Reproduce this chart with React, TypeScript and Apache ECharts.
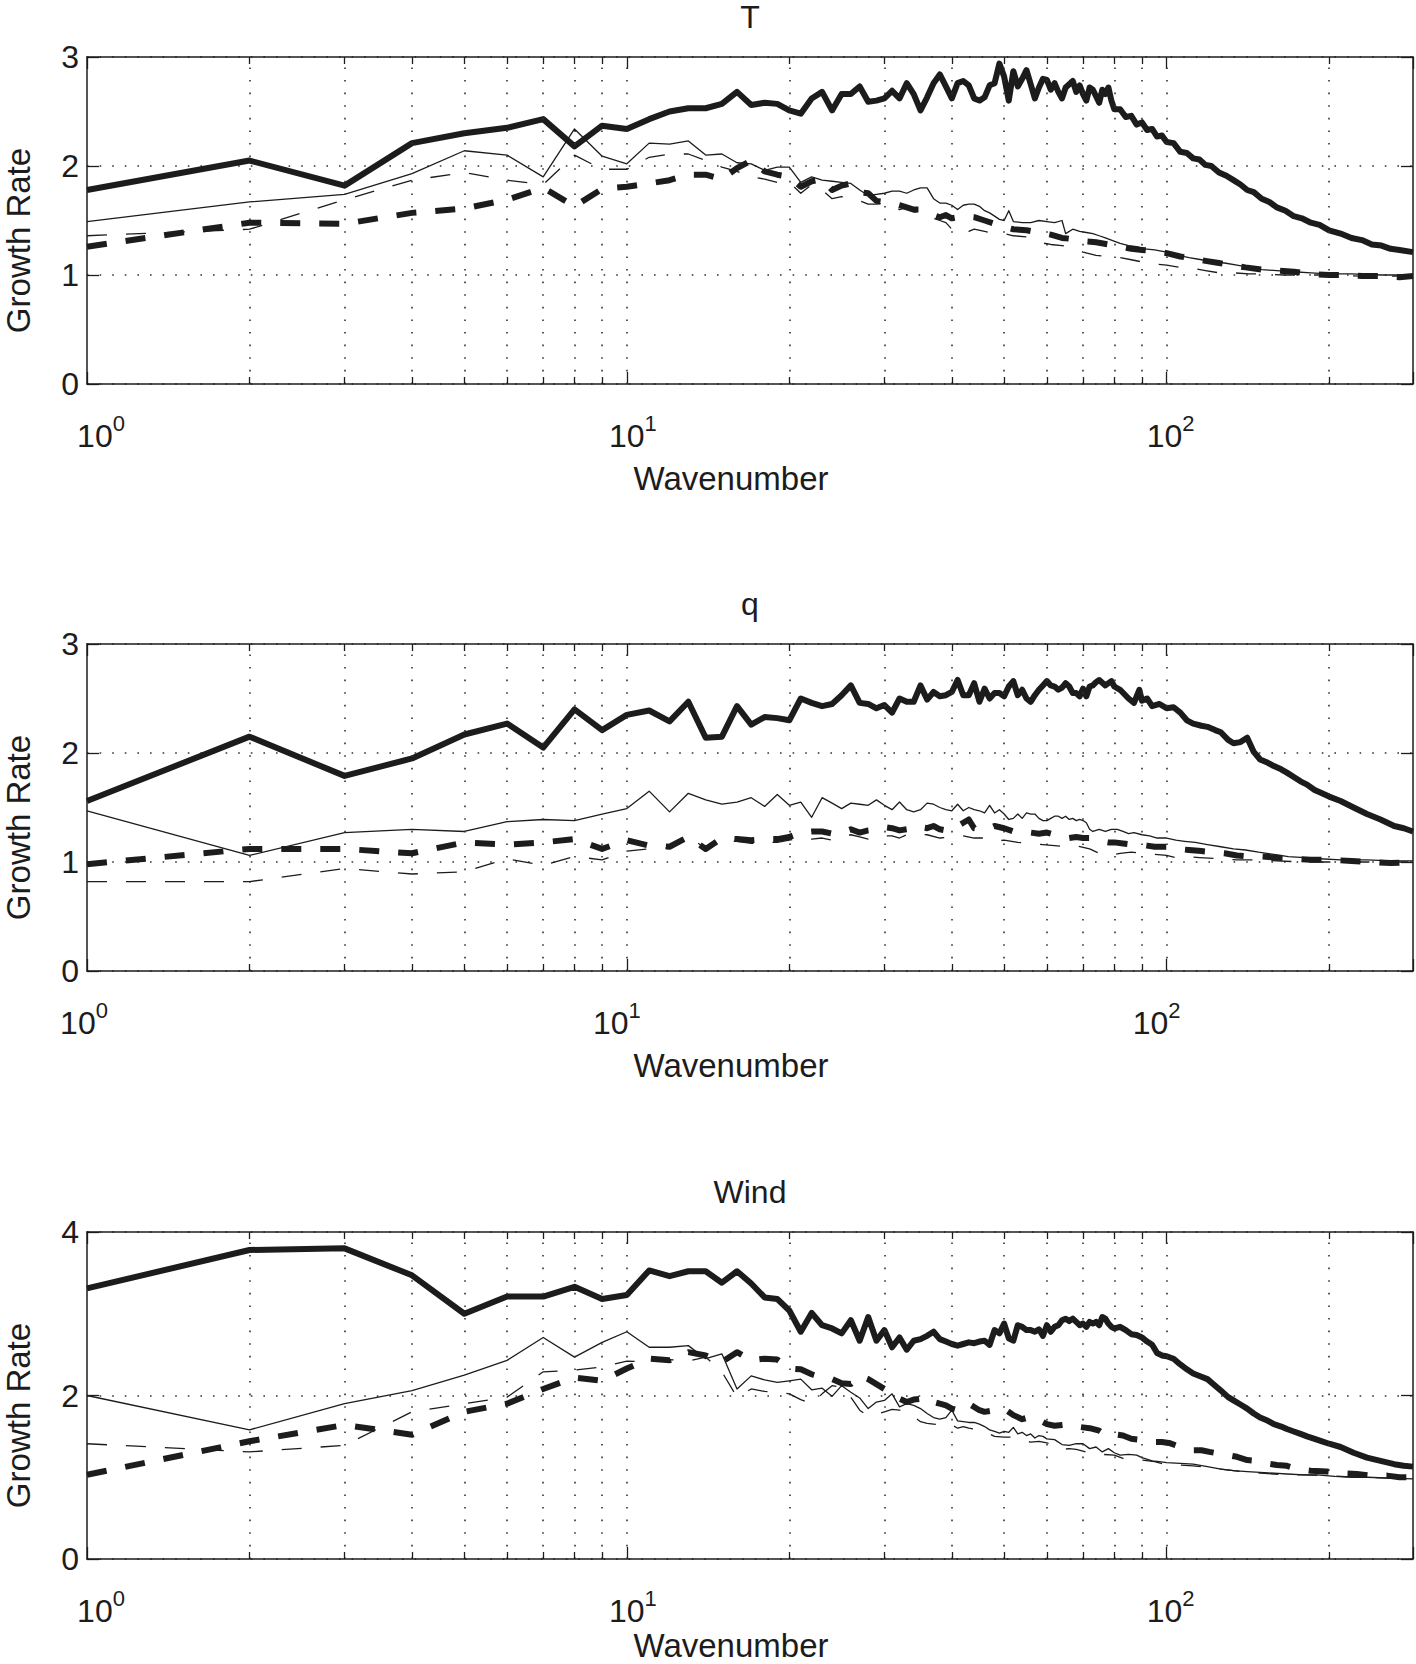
import React, { useEffect, useRef } from "react";
import * as echarts from "echarts";

type P = [number, number];

// ---------- axis / tick data ----------
const K_MIN = 1;
const K_MAX = 286;
const GRID_K = [2, 3, 4, 5, 6, 7, 8, 9, 10, 20, 30, 40, 50, 60, 70, 80, 90, 100, 200];
const MINOR_K = [2, 3, 4, 5, 6, 7, 8, 9, 20, 30, 40, 50, 60, 70, 80, 90, 200];
const PANEL_TITLES = ["T", "q", "Wind"];
const Y_MAX = [3, 3, 4];
const Y_INTERVAL = [1, 1, 2];
const X_NAME = "Wavenumber";
const Y_NAME = "Growth Rate";

// ---------- Panel 1 : T ----------
const T_thickSolid: P[] = [
  [1, 1.78], [2, 2.05], [3, 1.82], [4, 2.21], [5, 2.3], [6, 2.35], [7, 2.43], [8, 2.18], [9, 2.37], [10, 2.34],
  [11, 2.43], [12, 2.5], [13, 2.53], [14, 2.53], [15, 2.57], [16, 2.68], [17, 2.56], [18, 2.58], [19, 2.57], [20, 2.51],
  [21, 2.48], [22, 2.62], [23, 2.68], [24, 2.51], [25, 2.66], [26, 2.66], [27, 2.73], [28, 2.59], [29, 2.6], [30, 2.62],
  [31, 2.69], [32, 2.62], [33, 2.76], [34, 2.66], [35, 2.51], [36, 2.63], [37, 2.76], [38, 2.84], [39, 2.73], [40, 2.62],
  [41, 2.76], [42, 2.78], [43, 2.74], [44, 2.62], [45, 2.6], [46, 2.63], [47, 2.74], [48, 2.76], [49, 2.94], [50, 2.82],
  [51, 2.6], [52, 2.87], [53, 2.73], [54, 2.8], [55, 2.88], [56, 2.75], [57, 2.62], [58, 2.72], [59, 2.8], [60, 2.79],
  [61, 2.7], [62, 2.76], [63, 2.68], [64, 2.62], [65, 2.72], [66, 2.75], [67, 2.78], [68, 2.68], [69, 2.74], [70, 2.66],
  [71, 2.6], [72, 2.72], [73, 2.7], [74, 2.64], [75, 2.58], [76, 2.7], [77, 2.66], [78, 2.72], [79, 2.6], [80, 2.52],
  [82, 2.52], [84, 2.45], [86, 2.46], [88, 2.38], [90, 2.4], [92, 2.33], [94, 2.34], [96, 2.27], [98, 2.28], [100, 2.22],
  [103, 2.21], [106, 2.13], [109, 2.12], [112, 2.07], [115, 2.06], [118, 2.01], [121, 2.0], [125, 1.94], [129, 1.91],
  [133, 1.87], [137, 1.83], [141, 1.78], [145, 1.76], [150, 1.7], [155, 1.67], [160, 1.62], [166, 1.59], [172, 1.54],
  [178, 1.52], [185, 1.48], [192, 1.46], [200, 1.41], [210, 1.38], [220, 1.34], [230, 1.32], [240, 1.28], [250, 1.27],
  [260, 1.24], [270, 1.23], [286, 1.21],
];
const T_thinSolid: P[] = [
  [1, 1.49], [2, 1.67], [3, 1.74], [4, 1.93], [5, 2.14], [6, 2.1], [7, 1.9], [8, 2.34], [9, 2.09], [10, 2.02],
  [11, 2.21], [12, 2.2], [13, 2.23], [14, 2.1], [15, 2.11], [16, 2.03], [17, 2.02], [18, 1.96], [19, 1.99], [20, 1.99],
  [21, 1.85], [22, 1.9], [23, 1.87], [24, 1.86], [25, 1.85], [26, 1.84], [27, 1.78], [28, 1.73], [29, 1.74], [30, 1.75],
  [31, 1.77], [32, 1.77], [33, 1.75], [34, 1.78], [35, 1.8], [36, 1.8], [37, 1.7], [38, 1.66], [39, 1.66], [40, 1.64],
  [41, 1.6], [42, 1.64], [43, 1.65], [44, 1.65], [45, 1.63], [46, 1.59], [47, 1.57], [48, 1.54], [49, 1.51], [50, 1.5],
  [51, 1.59], [52, 1.49], [54, 1.48], [56, 1.48], [58, 1.5], [60, 1.49], [62, 1.48], [64, 1.5], [65, 1.38], [67, 1.42],
  [69, 1.4], [71, 1.39], [73, 1.38], [75, 1.36], [77, 1.34], [79, 1.32], [82, 1.29], [85, 1.27], [88, 1.26], [91, 1.24],
  [95, 1.23], [100, 1.21], [105, 1.18], [110, 1.16], [116, 1.14], [122, 1.12], [128, 1.11], [135, 1.09], [142, 1.07],
  [150, 1.05], [160, 1.04], [172, 1.03], [185, 1.02], [200, 1.01], [220, 1.01], [250, 1.0], [286, 1.0],
];
const T_thinDashed: P[] = [
  [1, 1.36], [2, 1.42], [3, 1.69], [4, 1.87], [5, 1.94], [6, 1.87], [7, 1.83], [8, 2.1], [9, 1.97], [10, 1.97],
  [11, 2.08], [12, 2.11], [13, 2.11], [14, 2.05], [15, 1.99], [16, 1.95], [17, 1.9], [18, 1.88], [19, 1.85], [20, 1.85],
  [21, 1.75], [22, 1.83], [23, 1.78], [24, 1.7], [25, 1.72], [26, 1.7], [27, 1.68], [28, 1.65], [29, 1.65], [30, 1.66],
  [31, 1.64], [32, 1.6], [33, 1.62], [34, 1.58], [35, 1.57], [36, 1.55], [37, 1.52], [38, 1.5], [39, 1.48], [40, 1.42],
  [41, 1.4], [42, 1.42], [43, 1.4], [44, 1.42], [46, 1.4], [48, 1.38], [50, 1.38], [52, 1.36], [55, 1.35], [58, 1.3],
  [61, 1.28], [64, 1.27], [67, 1.25], [70, 1.21], [74, 1.18], [78, 1.17], [82, 1.16], [86, 1.14], [90, 1.12], [95, 1.1],
  [100, 1.09], [106, 1.07], [112, 1.06], [118, 1.04], [125, 1.02], [133, 1.02], [142, 1.01], [150, 1.01], [165, 1.0],
  [180, 1.0], [200, 1.0], [230, 0.99], [260, 0.99], [286, 0.99],
];
const T_thickDashed: P[] = [
  [1, 1.26], [2, 1.48], [3, 1.47], [4, 1.57], [5, 1.61], [6, 1.69], [7, 1.8], [8, 1.63], [9, 1.79], [10, 1.81],
  [11, 1.84], [12, 1.87], [13, 1.92], [14, 1.92], [15, 1.88], [16, 1.98], [17, 2.05], [18, 1.95], [19, 1.92], [20, 1.9],
  [21, 1.81], [22, 1.86], [23, 1.88], [24, 1.78], [25, 1.82], [26, 1.84], [27, 1.76], [28, 1.75], [29, 1.68], [30, 1.67],
  [31, 1.66], [32, 1.64], [33, 1.62], [34, 1.6], [35, 1.6], [36, 1.58], [37, 1.55], [38, 1.53], [39, 1.55], [40, 1.52],
  [42, 1.54], [44, 1.53], [46, 1.5], [48, 1.47], [50, 1.44], [52, 1.42], [55, 1.41], [58, 1.39], [61, 1.37], [64, 1.34],
  [67, 1.33], [70, 1.31], [74, 1.3], [78, 1.28], [82, 1.26], [86, 1.24], [90, 1.23], [95, 1.22], [100, 1.2], [106, 1.17],
  [112, 1.15], [118, 1.13], [125, 1.11], [132, 1.09], [140, 1.07], [150, 1.05], [160, 1.04], [172, 1.03], [185, 1.01],
  [200, 1.0], [215, 1.0], [230, 0.99], [250, 0.99], [270, 0.98], [286, 0.99],
];

// ---------- Panel 2 : q ----------
const q_thickSolid: P[] = [
  [1, 1.56], [2, 2.15], [3, 1.79], [4, 1.95], [5, 2.17], [6, 2.27], [7, 2.05], [8, 2.4], [9, 2.21], [10, 2.35],
  [11, 2.39], [12, 2.29], [13, 2.47], [14, 2.14], [15, 2.15], [16, 2.43], [17, 2.26], [18, 2.33], [19, 2.32], [20, 2.3],
  [21, 2.5], [22, 2.46], [23, 2.43], [24, 2.45], [25, 2.53], [26, 2.62], [27, 2.46], [28, 2.45], [29, 2.41], [30, 2.44],
  [31, 2.37], [32, 2.5], [33, 2.47], [34, 2.47], [35, 2.62], [36, 2.49], [37, 2.56], [38, 2.52], [39, 2.53], [40, 2.56],
  [41, 2.67], [42, 2.53], [43, 2.53], [44, 2.64], [45, 2.47], [46, 2.59], [47, 2.5], [48, 2.55], [49, 2.55], [50, 2.52],
  [51, 2.61], [52, 2.66], [53, 2.53], [54, 2.58], [55, 2.5], [56, 2.47], [57, 2.53], [58, 2.58], [59, 2.62], [60, 2.66],
  [61, 2.62], [62, 2.61], [63, 2.58], [64, 2.6], [65, 2.64], [66, 2.61], [67, 2.55], [68, 2.55], [69, 2.52], [70, 2.59],
  [71, 2.52], [72, 2.61], [73, 2.62], [74, 2.65], [75, 2.67], [77, 2.62], [79, 2.66], [80, 2.61], [82, 2.58], [85, 2.5],
  [87, 2.46], [89, 2.58], [90, 2.48], [92, 2.5], [94, 2.43], [97, 2.45], [100, 2.41], [103, 2.42], [106, 2.37], [109, 2.3],
  [112, 2.27], [116, 2.25], [119, 2.24], [123, 2.21], [126, 2.19], [130, 2.12], [133, 2.09], [137, 2.1], [141, 2.14],
  [145, 2.01], [149, 1.94], [154, 1.91], [158, 1.88], [163, 1.85], [167, 1.82], [172, 1.78], [177, 1.74], [182, 1.71],
  [188, 1.66], [194, 1.63], [200, 1.6], [210, 1.56], [222, 1.5], [235, 1.44], [249, 1.39], [264, 1.33], [275, 1.31],
  [286, 1.28],
];
const q_thinSolid: P[] = [
  [1, 1.47], [2, 1.06], [3, 1.27], [4, 1.3], [5, 1.28], [6, 1.37], [7, 1.39], [8, 1.38], [9, 1.44], [10, 1.49],
  [11, 1.65], [12, 1.46], [13, 1.63], [14, 1.57], [15, 1.53], [16, 1.55], [17, 1.59], [18, 1.51], [19, 1.62], [20, 1.52],
  [21, 1.55], [22, 1.41], [23, 1.59], [24, 1.54], [25, 1.49], [26, 1.54], [27, 1.53], [28, 1.52], [29, 1.57], [30, 1.52],
  [31, 1.48], [32, 1.55], [33, 1.48], [34, 1.46], [35, 1.48], [36, 1.54], [37, 1.53], [38, 1.5], [39, 1.48], [40, 1.47],
  [41, 1.53], [42, 1.47], [43, 1.5], [44, 1.48], [45, 1.47], [46, 1.45], [47, 1.52], [48, 1.45], [49, 1.48], [50, 1.44],
  [51, 1.39], [52, 1.4], [53, 1.44], [54, 1.4], [55, 1.45], [56, 1.44], [57, 1.44], [58, 1.4], [59, 1.38], [60, 1.38],
  [61, 1.4], [62, 1.42], [63, 1.42], [64, 1.4], [65, 1.42], [66, 1.39], [67, 1.4], [68, 1.38], [69, 1.39], [70, 1.38],
  [71, 1.36], [72, 1.3], [73, 1.28], [75, 1.3], [77, 1.28], [79, 1.3], [81, 1.3], [83, 1.28], [85, 1.26], [87, 1.27],
  [90, 1.25], [93, 1.24], [96, 1.22], [100, 1.22], [104, 1.2], [108, 1.19], [113, 1.18], [119, 1.16], [126, 1.14],
  [133, 1.12], [140, 1.11], [148, 1.09], [158, 1.07], [168, 1.05], [180, 1.04], [192, 1.03], [210, 1.02], [235, 1.02],
  [260, 1.01], [286, 1.01],
];
const q_thinDashed: P[] = [
  [1, 0.82], [2, 0.82], [3, 0.94], [4, 0.89], [5, 0.91], [6, 1.03], [7, 0.97], [8, 1.05], [9, 1.02], [10, 1.1],
  [11, 1.12], [12, 1.13], [13, 1.24], [14, 1.12], [15, 1.19], [16, 1.19], [17, 1.17], [18, 1.18], [19, 1.18], [20, 1.2],
  [21, 1.22], [22, 1.21], [23, 1.22], [24, 1.2], [25, 1.23], [26, 1.25], [27, 1.23], [28, 1.21], [29, 1.24], [30, 1.24],
  [31, 1.24], [32, 1.22], [33, 1.25], [34, 1.26], [36, 1.25], [38, 1.22], [40, 1.23], [42, 1.24], [44, 1.22], [46, 1.22],
  [48, 1.19], [50, 1.2], [53, 1.18], [56, 1.17], [59, 1.16], [62, 1.15], [65, 1.14], [68, 1.15], [72, 1.12], [75, 1.08],
  [78, 1.06], [82, 1.08], [86, 1.09], [90, 1.08], [95, 1.07], [100, 1.06], [104, 1.04], [108, 1.05], [115, 1.04],
  [125, 1.03], [135, 1.02], [145, 1.02], [160, 1.01], [180, 1.0], [210, 1.0], [250, 1.0], [286, 1.0],
];
const q_thickDashed: P[] = [
  [1, 0.98], [2, 1.12], [3, 1.12], [4, 1.08], [5, 1.18], [6, 1.16], [7, 1.18], [8, 1.21], [9, 1.12], [10, 1.2],
  [11, 1.15], [12, 1.14], [13, 1.23], [14, 1.12], [15, 1.22], [16, 1.21], [17, 1.2], [18, 1.21], [19, 1.21], [20, 1.23],
  [21, 1.27], [22, 1.28], [23, 1.28], [24, 1.26], [25, 1.27], [26, 1.3], [27, 1.27], [28, 1.29], [29, 1.3], [30, 1.32],
  [31, 1.31], [32, 1.29], [33, 1.3], [34, 1.33], [35, 1.32], [36, 1.31], [37, 1.33], [38, 1.3], [39, 1.29], [40, 1.3],
  [41, 1.33], [42, 1.36], [43, 1.39], [44, 1.31], [45, 1.3], [47, 1.31], [48, 1.33], [50, 1.31], [52, 1.28], [54, 1.29],
  [56, 1.27], [58, 1.26], [60, 1.27], [62, 1.25], [64, 1.24], [66, 1.22], [68, 1.23], [70, 1.22], [72, 1.22], [74, 1.2],
  [76, 1.19], [78, 1.18], [80, 1.18], [83, 1.17], [86, 1.16], [89, 1.16], [92, 1.15], [95, 1.14], [100, 1.14],
  [105, 1.12], [110, 1.11], [116, 1.1], [122, 1.09], [128, 1.08], [135, 1.06], [143, 1.05], [150, 1.05], [160, 1.04],
  [172, 1.03], [185, 1.02], [200, 1.02], [220, 1.01], [240, 1.0], [260, 0.99], [286, 1.0],
];

// ---------- Panel 3 : Wind ----------
const w_thickSolid: P[] = [
  [1, 3.31], [2, 3.78], [3, 3.8], [4, 3.47], [5, 3.0], [6, 3.21], [7, 3.21], [8, 3.33], [9, 3.18], [10, 3.23],
  [11, 3.53], [12, 3.46], [13, 3.52], [14, 3.52], [15, 3.38], [16, 3.52], [17, 3.37], [18, 3.2], [19, 3.18], [20, 3.04],
  [21, 2.78], [22, 3.01], [23, 2.86], [24, 2.82], [25, 2.76], [26, 2.92], [27, 2.67], [28, 2.96], [29, 2.67], [30, 2.8],
  [31, 2.59], [32, 2.71], [33, 2.56], [34, 2.67], [35, 2.69], [36, 2.73], [37, 2.78], [38, 2.69], [39, 2.66], [40, 2.63],
  [41, 2.61], [42, 2.63], [43, 2.65], [44, 2.64], [45, 2.66], [46, 2.67], [47, 2.62], [48, 2.8], [49, 2.76], [50, 2.88],
  [51, 2.7], [52, 2.67], [53, 2.86], [54, 2.84], [55, 2.8], [56, 2.8], [57, 2.78], [58, 2.81], [59, 2.73], [60, 2.86],
  [61, 2.78], [62, 2.84], [63, 2.86], [64, 2.92], [65, 2.94], [66, 2.91], [67, 2.94], [68, 2.9], [69, 2.86], [70, 2.88],
  [71, 2.84], [72, 2.9], [73, 2.88], [74, 2.9], [75, 2.86], [76, 2.96], [77, 2.94], [78, 2.88], [79, 2.84], [80, 2.82],
  [82, 2.84], [84, 2.8], [86, 2.75], [88, 2.74], [90, 2.71], [92, 2.66], [94, 2.62], [96, 2.52], [98, 2.49], [100, 2.48],
  [103, 2.45], [106, 2.38], [109, 2.32], [112, 2.27], [116, 2.23], [119, 2.2], [123, 2.12], [126, 2.06], [130, 1.98],
  [133, 1.94], [137, 1.89], [141, 1.84], [145, 1.78], [149, 1.73], [154, 1.69], [158, 1.65], [163, 1.62], [167, 1.59],
  [172, 1.56], [177, 1.53], [182, 1.5], [188, 1.47], [194, 1.44], [200, 1.41], [210, 1.37], [222, 1.3], [235, 1.24],
  [249, 1.2], [264, 1.16], [275, 1.14], [286, 1.13],
];
const w_thinSolid: P[] = [
  [1, 2.0], [2, 1.58], [3, 1.9], [4, 2.06], [5, 2.25], [6, 2.43], [7, 2.71], [8, 2.47], [9, 2.65], [10, 2.78],
  [11, 2.59], [12, 2.59], [13, 2.61], [14, 2.45], [15, 2.51], [16, 2.08], [17, 2.24], [18, 2.19], [19, 2.16], [20, 2.18],
  [21, 2.2], [22, 2.07], [23, 2.09], [24, 1.99], [25, 2.12], [26, 2.04], [27, 1.97], [28, 1.84], [29, 1.92], [30, 1.94],
  [31, 2.02], [32, 1.86], [33, 1.9], [34, 1.88], [35, 1.84], [36, 1.78], [37, 1.73], [38, 1.71], [39, 1.73], [40, 1.82],
  [41, 1.69], [42, 1.68], [43, 1.67], [44, 1.67], [45, 1.65], [46, 1.62], [47, 1.58], [48, 1.56], [49, 1.54], [50, 1.56],
  [51, 1.55], [52, 1.61], [53, 1.53], [54, 1.55], [55, 1.51], [56, 1.53], [57, 1.48], [58, 1.51], [59, 1.5], [60, 1.47],
  [62, 1.46], [64, 1.4], [66, 1.39], [68, 1.41], [70, 1.41], [72, 1.35], [74, 1.37], [76, 1.31], [78, 1.35], [80, 1.3],
  [82, 1.27], [85, 1.28], [88, 1.27], [90, 1.24], [94, 1.2], [97, 1.19], [100, 1.18], [106, 1.17], [112, 1.16],
  [119, 1.13], [126, 1.1], [133, 1.08], [141, 1.07], [149, 1.06], [158, 1.05], [167, 1.04], [180, 1.03], [190, 1.03],
  [205, 1.01], [220, 1.0], [235, 1.0], [260, 0.99], [286, 0.98],
];
const w_thinDashed: P[] = [
  [1, 1.41], [2, 1.31], [3, 1.39], [4, 1.8], [5, 1.9], [6, 1.98], [7, 2.29], [8, 2.31], [9, 2.35], [10, 2.42],
  [11, 2.41], [12, 2.44], [13, 2.42], [14, 2.47], [15, 2.29], [16, 1.98], [17, 2.08], [18, 2.05], [19, 2.04], [20, 2.02],
  [21, 1.95], [22, 1.9], [23, 2.02], [24, 2.12], [25, 2.1], [26, 1.98], [27, 1.82], [28, 1.75], [29, 1.77], [30, 1.8],
  [31, 1.83], [32, 1.82], [33, 1.8], [34, 1.74], [35, 1.68], [36, 1.66], [37, 1.65], [38, 1.64], [39, 1.66], [40, 1.64],
  [41, 1.6], [42, 1.62], [43, 1.6], [44, 1.59], [45, 1.58], [46, 1.56], [48, 1.5], [50, 1.49], [52, 1.49], [54, 1.46],
  [56, 1.43], [58, 1.44], [60, 1.42], [62, 1.4], [64, 1.34], [66, 1.35], [68, 1.34], [70, 1.32], [73, 1.28], [76, 1.28],
  [80, 1.27], [83, 1.23], [86, 1.22], [90, 1.21], [95, 1.19], [100, 1.15], [106, 1.15], [112, 1.14], [119, 1.12],
  [126, 1.1], [133, 1.08], [141, 1.06], [149, 1.05], [158, 1.04], [167, 1.03], [180, 1.03], [195, 1.02], [210, 1.01],
  [230, 1.0], [255, 0.99], [286, 0.98],
];
const w_thickDashed: P[] = [
  [1, 1.03], [2, 1.44], [3, 1.64], [4, 1.52], [5, 1.8], [6, 1.9], [7, 2.08], [8, 2.22], [9, 2.18], [10, 2.33],
  [11, 2.45], [12, 2.43], [13, 2.53], [14, 2.49], [15, 2.41], [16, 2.53], [17, 2.43], [18, 2.45], [19, 2.44], [20, 2.33],
  [21, 2.32], [22, 2.26], [23, 2.22], [24, 2.2], [25, 2.15], [26, 2.14], [27, 2.24], [28, 2.2], [29, 2.14], [30, 2.08],
  [31, 2.02], [32, 1.96], [33, 1.92], [34, 1.95], [35, 1.96], [36, 1.9], [37, 1.92], [38, 1.9], [39, 1.88], [40, 1.84],
  [41, 1.82], [42, 1.86], [43, 1.9], [44, 1.86], [45, 1.82], [46, 1.8], [48, 1.82], [50, 1.84], [52, 1.76], [54, 1.71],
  [56, 1.74], [58, 1.7], [60, 1.65], [62, 1.63], [64, 1.64], [66, 1.65], [68, 1.62], [70, 1.61], [72, 1.6], [75, 1.57],
  [77, 1.52], [79, 1.5], [81, 1.52], [83, 1.51], [86, 1.47], [89, 1.46], [92, 1.45], [95, 1.43], [98, 1.43], [101, 1.42],
  [104, 1.39], [108, 1.36], [112, 1.33], [116, 1.33], [120, 1.31], [125, 1.29], [130, 1.27], [135, 1.25], [141, 1.21],
  [147, 1.2], [153, 1.17], [160, 1.15], [167, 1.14], [175, 1.1], [185, 1.08], [198, 1.07], [210, 1.05], [225, 1.04],
  [240, 1.02], [256, 1.02], [270, 1.0], [286, 1.0],
];

const PANEL_SERIES: P[][][] = [
  [T_thickSolid, T_thinSolid, T_thinDashed, T_thickDashed],
  [q_thickSolid, q_thinSolid, q_thinDashed, q_thickDashed],
  [w_thickSolid, w_thinSolid, w_thinDashed, w_thickDashed],
];

// ---------- styling ----------
const INK = "#1c1c1c";
const FONT = "'Liberation Sans', Arial, Helvetica, sans-serif";
const FS = 32;
const NAME_FS = 33;
const PAGE_H = 1664;
const PLOT_LEFT = 87;
const PLOT_W = 1326;
const PLOT_H = 327;
const PLOT_TOPS = [57, 644, 1232];
// horizontal nudge (px) of the 10^0, 10^1, 10^2 labels in each panel
const LABEL_SHIFT = [
  [14, 6, 4],
  [-3, -10, -10],
  [14, 6, 4],
];
const LINE_STYLES = [
  { width: 6, type: "solid" as any },
  { width: 1.3, type: "solid" as any },
  { width: 1.3, type: [20, 19] as any },
  { width: 6, type: [20, 19] as any },
];

function buildOption() {
  const grid: any[] = [];
  const xAxis: any[] = [];
  const yAxis: any[] = [];
  const series: any[] = [];
  const graphic: any[] = [];

  PANEL_TITLES.forEach((title, i) => {
    const top = PLOT_TOPS[i];
    const ymax = Y_MAX[i];
    grid.push({ left: PLOT_LEFT, top, width: PLOT_W, height: PLOT_H });

    const axisLine = { show: true, onZero: false, lineStyle: { color: INK, width: 1.5 } };
    const rich: any = {};
    LABEL_SHIFT[i].forEach((sh, e) => {
      rich["b" + e] = {
        fontSize: FS,
        fontFamily: FONT,
        color: INK,
        verticalAlign: "bottom",
        lineHeight: 40,
        padding: sh >= 0 ? [0, 0, 0, 2 * sh] : [0, 0, 0, 0],
      };
      rich["s" + e] = {
        fontSize: 22,
        fontFamily: FONT,
        color: INK,
        verticalAlign: "top",
        lineHeight: 22,
        padding: sh < 0 ? [0, -2 * sh, 0, 0] : [0, 0, 0, 0],
      };
    });

    // bottom log axis
    xAxis.push({
      type: "log",
      logBase: 10,
      gridIndex: i,
      min: K_MIN,
      max: K_MAX,
      position: "bottom",
      axisLine,
      axisTick: { show: true, inside: true, length: 12, lineStyle: { color: INK, width: 1.3 } },
      splitLine: { show: false },
      minorTick: { show: false },
      axisLabel: {
        show: true,
        margin: 28,
        color: INK,
        fontFamily: FONT,
        formatter: (v: number) => {
          const e = Math.log10(v);
          const r = Math.round(e);
          if (Math.abs(e - r) < 1e-6) return `{b${r}|10}{s${r}|${r}}`;
          return "";
        },
        rich,
      },
    });
    // top log axis (box + ticks)
    xAxis.push({
      type: "log",
      logBase: 10,
      gridIndex: i,
      min: K_MIN,
      max: K_MAX,
      position: "top",
      axisLine,
      axisTick: { show: true, inside: true, length: 12, lineStyle: { color: INK, width: 1.3 } },
      splitLine: { show: false },
      axisLabel: { show: false },
    });
    yAxis.push({
      type: "value",
      gridIndex: i,
      min: 0,
      max: ymax,
      interval: Y_INTERVAL[i],
      position: "left",
      axisLine,
      axisTick: { show: true, inside: true, length: 12, lineStyle: { color: INK, width: 1.3 } },
      axisLabel: { show: true, margin: 8, color: INK, fontSize: FS, fontFamily: FONT },
      splitLine: { show: true, lineStyle: { color: "#333", width: 1.6, type: [1.6, 11] } },
    });
    yAxis.push({
      type: "value",
      gridIndex: i,
      min: 0,
      max: ymax,
      interval: Y_INTERVAL[i],
      position: "right",
      axisLine,
      axisTick: { show: true, inside: true, length: 12, lineStyle: { color: INK, width: 1.3 } },
      axisLabel: { show: false },
      splitLine: { show: false },
    });

    const xb = i * 2;
    const yl = i * 2;
    const tickLen = (7 * ymax) / PLOT_H;

    // dotted vertical grid lines (major + minor decades)
    series.push({
      type: "line",
      xAxisIndex: xb,
      yAxisIndex: yl,
      data: [[K_MIN, 0]],
      showSymbol: false,
      lineStyle: { opacity: 0 },
      silent: true,
      z: 1,
      markLine: {
        silent: true,
        symbol: "none",
        label: { show: false },
        lineStyle: { color: "#333", width: 1.6, type: [1.6, 11] },
        data: GRID_K.map((k) => ({ xAxis: k })),
      },
    });
    // minor ticks on bottom and top edges
    series.push({
      type: "line",
      xAxisIndex: xb,
      yAxisIndex: yl,
      data: [[K_MIN, 0]],
      showSymbol: false,
      lineStyle: { opacity: 0 },
      silent: true,
      z: 2,
      markLine: {
        silent: true,
        symbol: "none",
        label: { show: false },
        lineStyle: { color: INK, width: 1.3, type: "solid" },
        data: [
          ...MINOR_K.map((k) => [{ coord: [k, 0] }, { coord: [k, tickLen] }]),
          ...MINOR_K.map((k) => [{ coord: [k, ymax] }, { coord: [k, ymax - tickLen] }]),
        ],
      },
    });

    PANEL_SERIES[i].forEach((d, j) => {
      series.push({
        type: "line",
        xAxisIndex: xb,
        yAxisIndex: yl,
        data: d,
        showSymbol: false,
        symbol: "none",
        silent: true,
        z: 3 + j,
        lineStyle: { color: INK, width: LINE_STYLES[j].width, type: LINE_STYLES[j].type, cap: "butt", join: "round" },
      });
    });

    const textStyle = { fontSize: NAME_FS, fontFamily: FONT, fill: INK, align: "center", verticalAlign: "middle" };
    graphic.push({ type: "text", x: 750, y: top - 40, style: { ...textStyle, fontSize: FS, text: title } });
    graphic.push({
      type: "text",
      x: 731,
      y: Math.min(top + PLOT_H + 94, PAGE_H - 19),
      style: { ...textStyle, text: X_NAME },
    });
    graphic.push({
      type: "text",
      x: 18,
      y: top + PLOT_H / 2 + 20,
      rotation: Math.PI / 2,
      style: { ...textStyle, text: Y_NAME },
    });
  });

  return {
    animation: false,
    backgroundColor: "#ffffff",
    grid,
    xAxis,
    yAxis,
    series,
    graphic,
  };
}

export default function App() {
  const ref = useRef<HTMLDivElement>(null);
  useEffect(() => {
    document.body.style.margin = "0";
    if (!ref.current) return;
    const chart = echarts.init(ref.current, undefined, { renderer: "svg" });
    chart.setOption(buildOption() as any);
    return () => chart.dispose();
  }, []);
  return <div ref={ref} style={{ width: 1416, height: 1664, background: "#fff" }} />;
}
